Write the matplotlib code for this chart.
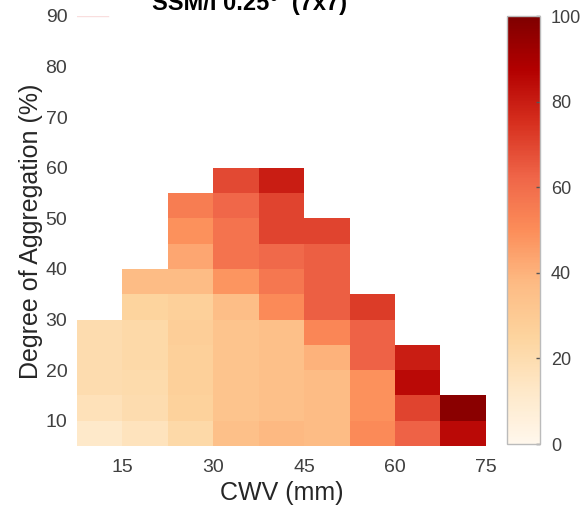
import numpy as np
import matplotlib
matplotlib.use('Agg')
import matplotlib.pyplot as plt

plt.rcParams['font.family'] = ['Liberation Sans', 'DejaVu Sans']

# bin edges
cwv_edges = np.arange(7.5, 75.1, 7.5)          # 9 CWV bins (mm)
agg_edges = np.arange(5, 60.1, 5)              # 11 aggregation bins (%)

# cell values, rows bottom (5-10 %) to top (55-60 %), columns low to high CWV
nan = np.nan
values = np.array([
    [12, 16, 22, 35, 38, 37, 51, 63, 85],
    [17, 20, 26, 33, 35, 37, 49, 70, 97],
    [20, 21, 27, 33, 35, 37, 49, 85, nan],
    [20, 22, 27, 33, 35, 40, 63, 80, nan],
    [20, 22, 28, 33, 35, 52, 63, nan, nan],
    [nan, 25, 27, 36, 51, 64, 72, nan, nan],
    [nan, 37, 37, 48, 57, 64, nan, nan, nan],
    [nan, nan, 43, 58, 61, 64, nan, nan, nan],
    [nan, nan, 49, 58, 70, 70, nan, nan, nan],
    [nan, nan, 55, 62, 70, nan, nan, nan, nan],
    [nan, nan, nan, 69, 80, nan, nan, nan, nan],
])

xticks = [15, 30, 45, 60, 75]
yticks = [10, 20, 30, 40, 50, 60, 70, 80, 90]
cbar_ticks = [0, 20, 40, 60, 80, 100]

fig = plt.figure(figsize=(5.85, 5.11), dpi=100)
ax = fig.add_axes([0.1316, 0.1272, 0.699, 0.8415])
cax = fig.add_axes([0.8667, 0.131, 0.0564, 0.8376])

mesh = ax.pcolormesh(cwv_edges, agg_edges, np.ma.masked_invalid(values),
                     cmap='OrRd', vmin=0, vmax=100, shading='flat')
ax.axhline(90, xmin=0, xmax=0.075, color='#f9dede', lw=1)

ax.set_xlim(7.5, 75)
ax.set_ylim(5, 90)
ax.set_xticks(xticks)
ax.set_yticks(yticks)
ax.tick_params(length=0, labelsize=14, labelcolor='#404040')
ax.tick_params(axis='x', pad=9)
ax.tick_params(axis='y', pad=7)
for s in ax.spines.values():
    s.set_visible(False)
ax.set_xlabel('CWV (mm)', fontsize=18, color='#262626', labelpad=4)
ax.set_ylabel('Degree of Aggregation (%)', fontsize=18, color='#262626', labelpad=2)

fig.text(0.427, 0.980, 'SSM/I 0.25\u00b0  (7x7)', ha='center', va='baseline',
         fontsize=17, fontweight='bold')

cb = fig.colorbar(mesh, cax=cax, ticks=cbar_ticks)
cb.outline.set_edgecolor('#bbbbbb')
cb.outline.set_linewidth(1)
cax.tick_params(direction='in', length=3, width=1, color='#555555',
                labelsize=13, labelcolor='#404040', pad=8)

fig.savefig('out.png', dpi=100)
